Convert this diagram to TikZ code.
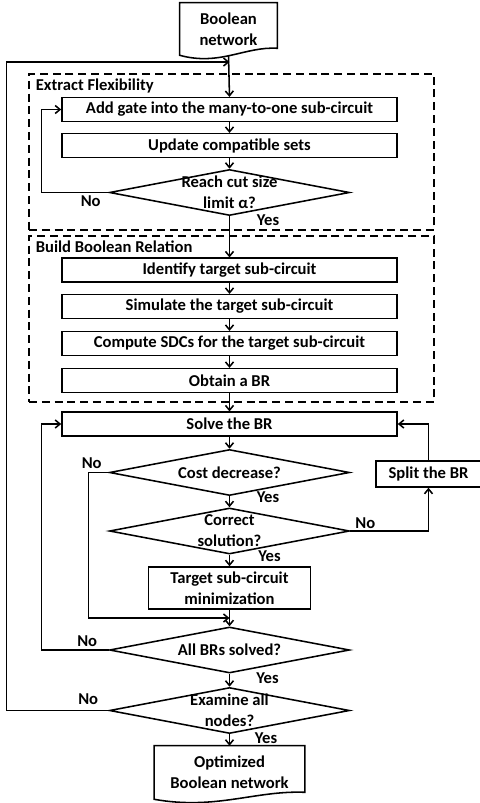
\documentclass[tikz,border=0pt]{standalone}
\usepackage{fontspec}
\setmainfont{Carlito}
\usetikzlibrary{arrows.meta,shapes.geometric,calc}
% document shape with wavy bottom edge
\newcommand{\docoutline}[1]{%
  \draw[line width=1.1pt] (#1.south west) -- (#1.north west) -- (#1.north east) -- ($(#1.south east)+(0,-7)$)
    .. controls ($(#1.south east)!0.33!(#1.south west)+(0,-9)$) and ($(#1.south east)!0.59!(#1.south west)+(0,11)$) .. (#1.south west) -- cycle;}

\begin{document}
\begin{tikzpicture}[x=0.025cm, y=-0.025cm,
  every node/.style={font=\bfseries\fontsize{11.8}{14.8}\selectfont},
  proc/.style={draw, line width=1.1pt, minimum width=8.375cm, minimum height=0.59cm, inner sep=1pt, align=center},
  dec/.style={draw, diamond, aspect=5.2, line width=1.1pt, minimum width=6cm, minimum height=1.15cm, inner sep=-4pt, align=center},
  doc/.style={minimum height=1.3cm, inner sep=1pt, align=center},
  group/.style={draw, line width=1.1pt, dash pattern=on 2mm off 1.2mm, minimum width=10.125cm},
  arrow/.style={-{Straight Barb[length=1.2mm,width=2mm]}, line width=1.1pt},
  lbl/.style={inner sep=1pt}
]
\useasboundingbox (0,0) rectangle (480,803);

\node[doc, minimum width=2.425cm] (bn) at (228.5,29) {Boolean\\network};
\docoutline{bn}
\coordinate (join) at (229.5,62);

% Extract Flexibility
\node[group, minimum height=3.9cm] (fx) at (231.5,152) {};
\node[lbl, anchor=north west] (fxt) at ([shift={(6,4)}]fx.north west) {Extract Flexibility};
\node[proc] (add) at (229.5,109.5) {Add gate into the many-to-one sub-circuit};
\node[proc] (upd) at (229.5,145.5) {Update compatible sets};
\node[dec] (reach) at (229.5,192.5) {Reach cut size\\limit α?};

% Build Boolean Relation
\node[group, minimum height=4.15cm] (br) at (231.5,319) {};
\node[lbl, anchor=north west] (brt) at ([shift={(6,4)}]br.north west) {Build Boolean Relation};
\node[proc] (ident) at (229.5,270) {Identify target sub-circuit};
\node[proc] (sim) at (229.5,306.5) {Simulate the target sub-circuit};
\node[proc] (comp) at (229.5,343.5) {Compute SDCs for the target sub-circuit};
\node[proc] (obt) at (229.5,380.5) {Obtain a BR};

% solving loop
\node[proc] (solve) at (229.5,424) {Solve the BR};
\node[dec] (cost) at (229.5,472.5) {Cost decrease?};
\node[proc, minimum width=2.625cm, minimum height=0.65cm] (split) at (428.5,474) {Split the BR};
\node[dec] (correct) at (229.5,531) {Correct\\solution?};
\node[proc, minimum width=4.05cm, minimum height=1.05cm] (target) at (229.5,588) {Target sub-circuit\\minimization};
\coordinate (merge) at (229.5,618);
\node[dec] (allbr) at (229.5,650) {All BRs solved?};
\node[dec] (exam) at (229.5,710.5) {Examine all\\nodes?};
\node[doc, minimum width=3.75cm, minimum height=1.325cm] (opt) at (229.5,772.5) {Optimized\\Boolean network};
\docoutline{opt}

% labels
\node[lbl] (no1) at ([shift={(-18,8.5)}]reach.west) {No};
\node[lbl] (yes1) at ([shift={(38.5,4)}]reach.south) {Yes};
\node[lbl] (no2) at ([shift={(-17,-9.5)}]cost.west) {No};
\node[lbl] (yes2) at ([shift={(38.5,1)}]cost.south) {Yes};
\node[lbl] (no3) at ([shift={(15,-8)}]correct.east) {No};
\node[lbl] (yes3) at ([shift={(40,1)}]correct.south) {Yes};
\node[lbl] (no4) at ([shift={(-21.5,-9)}]allbr.west) {No};
\node[lbl] (yes4) at ([shift={(38,4.5)}]allbr.south) {Yes};
\node[lbl] (no5) at ([shift={(-20.5,-11.5)}]exam.west) {No};
\node[lbl] (yes5) at ([shift={(36.5,4)}]exam.south) {Yes};

% connectors
\draw[arrow] (bn.south) -- (add.north);
\draw[arrow] (add) -- (upd);
\draw[arrow] (upd) -- (reach);
\draw[arrow] (reach.west) -- ++(-67,0) |- (add.west);
\draw[arrow] (reach) -- (ident);
\draw[arrow] (ident) -- (sim);
\draw[arrow] (sim) -- (comp);
\draw[arrow] (comp) -- (obt);
\draw[arrow] (obt) -- (solve);
\draw[arrow] (solve) -- (cost);
\draw[arrow] (cost) -- (correct);
\draw[arrow] (cost.west) -- ++(-20,0) |- (merge);
\draw[arrow] (correct.east) -| (split.south);
\draw[arrow] (split.north) |- (solve.east);
\draw[arrow] (correct) -- (target);
\draw[arrow] (target) -- (allbr);
\draw[arrow] (allbr.west) -- ++(-67,0) |- (solve.west);
\draw[arrow] (allbr) -- (exam);
\draw[arrow] (exam.west) -- ++(-102,0) |- (join);
\draw[arrow] (exam) -- (opt);

\end{tikzpicture}
\end{document}
